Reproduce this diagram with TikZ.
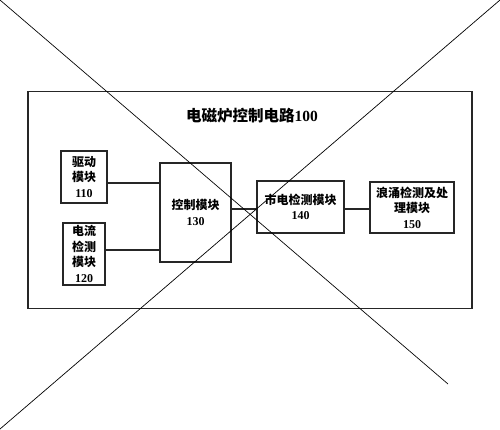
\documentclass[tikz,border=0pt]{standalone}
\usepackage{fontspec}
\setmainfont{Liberation Serif}
\newfontfamily\cjk{Noto Sans CJK SC}
\begin{document}
\begin{tikzpicture}[x=1pt,y=-1pt,
  modbox/.style={draw=black!85,line width=1.8pt,align=center,inner sep=0pt,
     font=\fontsize{12}{15.5}\selectfont\bfseries},
  wire/.style={draw=black!85,line width=1.8pt},
  cross/.style={draw=black,line width=0.7pt}]
\useasboundingbox (0,0) rectangle (500,429);
\node[draw=black!85,line width=1.8pt,minimum width=444pt,minimum height=217pt,inner sep=0pt] (outer) at (250,200) {};
\node[font=\fontsize{15.5}{18}\selectfont\bfseries] (title) at (252,116) {{\cjk 电磁炉控制电路}100};
\node[modbox,minimum width=46pt,minimum height=52pt] (m110) at (84,177) {{\cjk 驱动}\\{\cjk 模块}\\110};
\node[modbox,minimum width=42pt,minimum height=62pt] (m120) at (84,254) {{\cjk 电流}\\{\cjk 检测}\\{\cjk 模块}\\120};
\node[modbox,minimum width=71pt,minimum height=99pt] (m130) at (195.5,212.5) {{\cjk 控制模块}\\130};
\node[modbox,minimum width=87pt,minimum height=52pt] (m140) at (300.5,207) {{\cjk 市电检测模块}\\140};
\node[modbox,minimum width=84pt,minimum height=51pt] (m150) at (412,207.5) {{\cjk 浪涌检测及处}\\{\cjk 理模块}\\150};
\draw[wire] ([yshift=-6pt]m110.east) -- ([yshift=-6pt]m110.east -| m130.west);
\draw[wire] ([yshift=4pt]m120.east) -- ([yshift=4pt]m120.east -| m130.west);
\draw[wire] ([yshift=-2pt]m140.west -| m130.east) -- ([yshift=-2pt]m140.west);
\draw[wire] ([yshift=-2pt]m140.east) -- ([yshift=-2pt]m140.east -| m150.west);
\coordinate (tl) at (0,0);
\coordinate (br) at (448,384);
\coordinate (tr) at (500,0);
\coordinate (bl) at (0,429);
\draw[cross] (tl) -- (br);
\draw[cross] (tr) -- (bl);
\end{tikzpicture}
\end{document}
